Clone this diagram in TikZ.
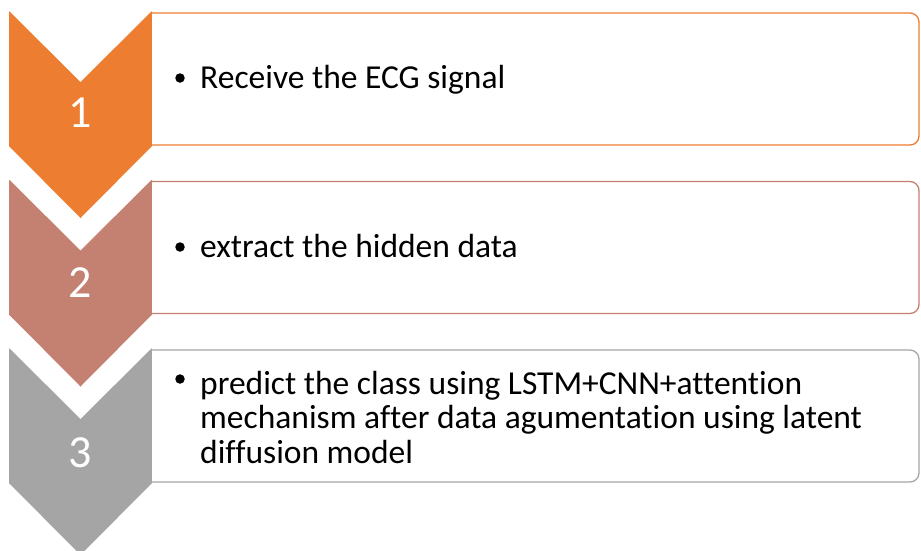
\documentclass[tikz,border=0pt]{standalone}
\usepackage{fontspec}
\setmainfont{Carlito}[Ligatures={NoCommon}]
\definecolor{cA}{HTML}{ED7D31}
\definecolor{cB}{RGB}{196,128,113}
\definecolor{cC}{HTML}{A5A5A5}
\begin{document}
\begin{tikzpicture}[x=1pt,y=-1pt,
  txtbox/.style={draw=#1, line width=1.3pt, fill=white, rounded corners=9pt},
  num/.style={text=white, font=\fontsize{46}{50}\selectfont},
  item/.style={anchor=base west, align=left, inner sep=0pt, font=\fontsize{33.5}{34.5}\selectfont},
  bul/.style={circle, fill=black, inner sep=0pt, minimum size=9.5pt}]
\useasboundingbox (0,0) rectangle (921,550);
\foreach \i/\c in {0/cA,1/cB,2/cC}{
  \pgfmathsetmacro{\dy}{168.5*\i}
  \fill[\c] (9,11+\dy) -- (80.5,82+\dy) -- (152,11+\dy) -- (152,146+\dy) -- (80.5,218+\dy) -- (9,146+\dy) -- cycle;
}
\draw[txtbox=cA] (152,13) -- (919,13) -- (919,145) -- (152,145);
\draw[txtbox=cB] (152,181.5) -- (919,181.5) -- (919,313.5) -- (152,313.5);
\draw[txtbox=cC] (152,350) -- (919,350) -- (919,482) -- (152,482);
\node[num] (n1) at (80.5,113) {1};
\node[num] (n2) at (80.5,283) {2};
\node[num] (n3) at (80.5,453) {3};
\node[bul] (b1) at (180,78) {};
\node[bul] (b2) at (180,247) {};
\node[bul] (b3) at (180,379) {};
\node[item] (t1) at (200,88) {Receive the ECG signal};
\node[item] (t2) at (200,257) {extract the hidden data};
\node[item, anchor=west] (t3) at (200,417) {predict the class using LSTM+CNN+attention\\mechanism after data agumentation using latent\\diffusion model};
\end{tikzpicture}
\end{document}
